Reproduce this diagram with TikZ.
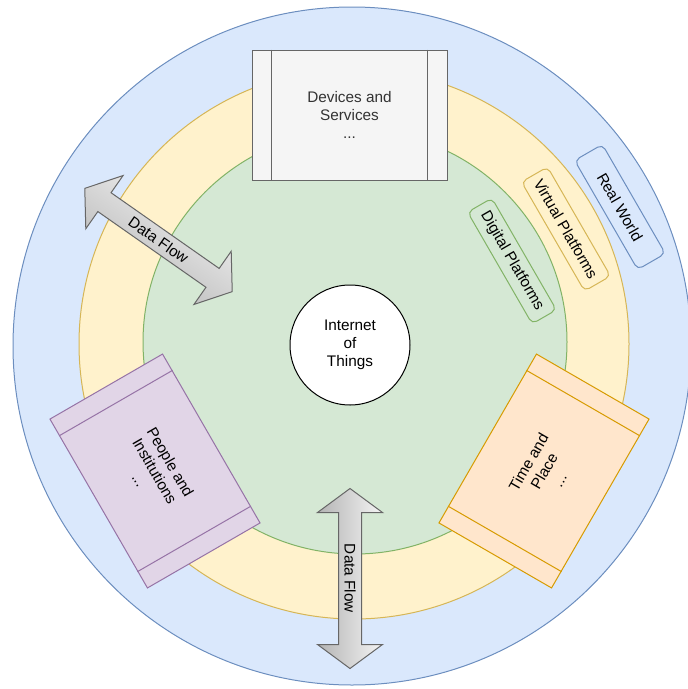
\documentclass[tikz,border=0pt]{standalone}
\usepackage{fontspec}
\setmainfont{Liberation Sans}
\usetikzlibrary{calc}

\definecolor{worldfill}{HTML}{DAE8FC}
\definecolor{worldline}{HTML}{6C8EBF}
\definecolor{virtfill}{HTML}{FFF2CC}
\definecolor{virtline}{HTML}{D6B656}
\definecolor{digfill}{HTML}{D5E8D4}
\definecolor{digline}{HTML}{82B366}
\definecolor{devfill}{HTML}{F5F5F5}
\definecolor{devline}{HTML}{666666}
\definecolor{devtext}{HTML}{333333}
\definecolor{peoplefill}{HTML}{E1D5E7}
\definecolor{peopleline}{HTML}{9673A6}
\definecolor{timefill}{HTML}{FFE6CC}
\definecolor{timeline}{HTML}{D79B00}
\definecolor{flowtop}{HTML}{F5F5F5}
\definecolor{flowbottom}{HTML}{B3B3B3}

\begin{document}
\begin{tikzpicture}[x=0.75pt,y=-0.75pt,line width=0.75pt,
    every node/.style={font=\fontsize{11.5}{13.5}\selectfont, align=center},
    cardbox/.style={draw, rectangle, minimum width=146.25pt, minimum height=97.5pt, inner sep=0pt},
    layertag/.style={draw, rectangle, rounded corners=4pt, rotate=-60, minimum width=94.5pt, inner sep=0pt}]
    \useasboundingbox (0,0) rectangle (687,689);

    \draw[draw=worldline, fill=worldfill] (352,346) circle [radius=339];
    \draw[draw=virtline, fill=virtfill] (354,344) circle [radius=275];
    \draw[draw=digline, fill=digfill] (355,342) circle [radius=212];

    \node[circle, draw, fill=white, minimum size=90pt, inner sep=0pt] (iot) at (350,345) {Internet\\of\\Things};

    \node[layertag, draw=worldline, fill=worldfill, minimum height=24pt] (realworld) at (620,207) {Real World};
    \node[layertag, draw=virtline, fill=virtfill, minimum height=22.5pt] (virtual) at (566,229) {Virtual Platforms};
    \node[layertag, draw=digline, fill=digfill, minimum height=21pt, minimum width=96.75pt] (digital) at (512,261) {Digital Platforms};

    \node[cardbox, draw=devline, fill=devfill, text=devtext] (devices) at (349.5,115) {Devices and\\Services\\...};
    \node[cardbox, draw=peopleline, fill=peoplefill, rotate=-60] (people) at (155,471) {People and\\Institutions\\...};
    \node[cardbox, draw=timeline, fill=timefill, rotate=60] (time) at (544,471) {Time and\\Place\\...};

    \foreach \card/\edge in {devices/devline, people/peopleline, time/timeline}{
        \draw[draw=\edge] ($(\card.north west)!0.1!(\card.north east)$) -- ($(\card.south west)!0.1!(\card.south east)$);
        \draw[draw=\edge] ($(\card.north east)!0.1!(\card.north west)$) -- ($(\card.south east)!0.1!(\card.south west)$);
    }

    \foreach \cx/\cy/\turn [count=\k] in {158.5/240/-35, 350/578.5/-90}{
        \begin{scope}[shift={(\cx,\cy)}, rotate=\turn]
            \shadedraw[draw=devline, top color=flowtop, bottom color=flowbottom, shading angle=\turn]
                (-90,0) -- (-66,32.5) -- (-66,11.5) -- (66,11.5) -- (66,32.5) -- (90,0)
                -- (66,-32.5) -- (66,-11.5) -- (-66,-11.5) -- (-66,-32.5) -- cycle;
            \node[rotate=\turn] (flow\k) at (0,0) {Data Flow};
        \end{scope}
    }
\end{tikzpicture}
\end{document}
